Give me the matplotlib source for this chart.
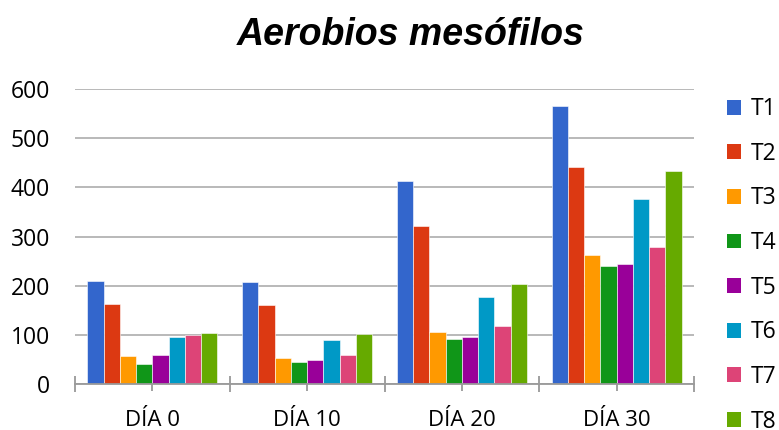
import numpy as np
import matplotlib.pyplot as plt
from matplotlib.patches import Patch

# Data
dias = ['DÍA 0', 'DÍA 10', 'DÍA 20', 'DÍA 30']
tratamientos = ['T1', 'T2', 'T3', 'T4', 'T5', 'T6', 'T7', 'T8']

T1 = [209, 207, 412, 565]
T2 = [162, 161, 322, 441]
T3 = [56, 52, 105, 263]
T4 = [41, 45, 92, 240]
T5 = [60, 49, 95, 245]
T6 = [96, 90, 177, 377]
T7 = [99, 60, 118, 278]
T8 = [103, 102, 204, 434]

valores = [T1, T2, T3, T4, T5, T6, T7, T8]

colores = ['#3366CC', '#DC3912', '#FF9900', '#109618',
           '#990099', '#0099C6', '#DD4477', '#66AA00']

# Figure setup
fig = plt.figure(figsize=(7.79, 4.30), dpi=100)
ax = fig.add_axes([75 / 779, 46 / 430, 619 / 779, 295 / 430])

x = np.arange(len(dias))
ancho = 0.105

for i, (serie, color) in enumerate(zip(valores, colores)):
    ax.bar(x + (i - 3.5) * ancho, serie, width=ancho, color=color,
           edgecolor='white', linewidth=0.4, zorder=3)

ax.set_xlim(-0.5, 3.5)
ax.set_ylim(0, 600)
ax.set_yticks(np.arange(0, 601, 100))
ax.yaxis.grid(True, color='#b3b3b3', linewidth=1.3, zorder=0)

for s in ['top', 'right', 'left']:
    ax.spines[s].set_visible(False)
ax.spines['bottom'].set_color('#999999')
ax.spines['bottom'].set_linewidth(1.3)
ax.spines['bottom'].set_zorder(4)

# Category labels at the centres, separators at the boundaries
ax.set_xticks(x)
ax.set_xticklabels(dias, fontsize=16, family='Open Sans')
ax.set_xticks(np.arange(-0.5, 4.0, 1.0), minor=True)
ax.tick_params(axis='x', which='major', direction='out', length=5,
               width=1.3, color='#999999', pad=14)
ax.tick_params(axis='x', which='minor', direction='inout', length=11,
               width=1.3, color='#999999')
ax.tick_params(axis='y', length=0, pad=18, labelsize=16.5)
for lab in ax.get_yticklabels():
    lab.set_family('Open Sans')

fig.text(0.527, 0.918, 'Aerobios mesófilos', ha='center', va='center',
         fontsize=27, fontweight='bold', style='italic',
         family='Liberation Sans')

# Legend
handles = [Patch(facecolor=c, label=t) for c, t in zip(colores, tratamientos)]
fig.legend(handles=handles, loc='upper left',
           bbox_to_anchor=(718 / 779, 1 - 88 / 430),
           frameon=False, prop={'family': 'Open Sans', 'size': 16.5},
           handlelength=0.62, handleheight=0.62, handletextpad=0.4,
           labelspacing=0.9, borderaxespad=0)

fig.savefig('out.png', dpi=100)
